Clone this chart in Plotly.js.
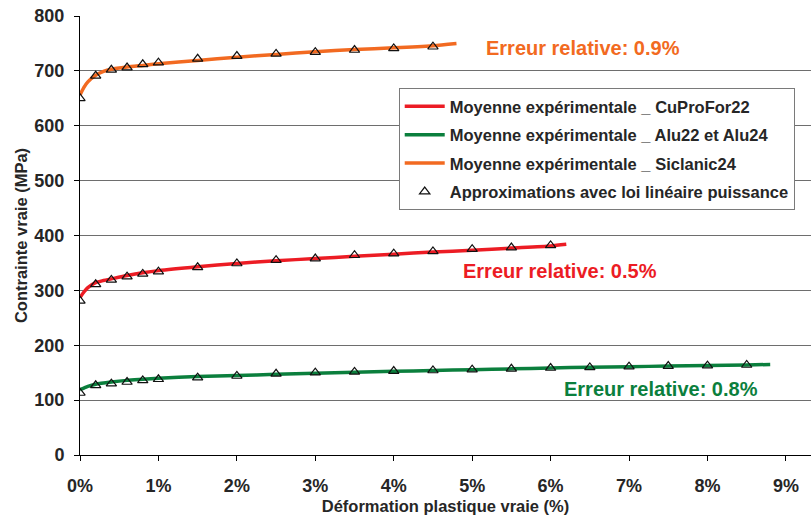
<!DOCTYPE html>
<html>
<head>
<meta charset="utf-8">
<script src="https://cdn.plot.ly/plotly-3.0.1.min.js"></script>
<style>
  html, body { margin: 0; padding: 0; background: #ffffff; }
  #chart { width: 811px; height: 518px; }
</style>
</head>
<body>
<div id="chart"></div>
<script>
// Courbes contrainte vraie / déformation plastique vraie (déformation en %)
const cuproforStrain = [0, 0.05, 0.1, 0.2, 0.3, 0.4, 0.6, 0.8, 1.0, 1.5, 2.0, 2.5, 3.0, 3.5, 4.0, 4.5, 5.0, 5.5, 6.0, 6.2];
const cuproforStress = [287, 297, 305, 314, 318, 321, 327, 332, 336, 343, 349, 354, 358, 362, 366, 370, 373, 377, 381, 384];

const aluStrain = [0, 0.05, 0.1, 0.2, 0.4, 0.6, 0.8, 1.0, 1.5, 2.0, 2.5, 3.0, 3.5, 4.0, 4.5, 5.0, 5.5, 6.0, 6.5, 7.0, 7.5, 8.0, 8.5, 8.8];
const aluStress = [119, 122, 125, 129, 133, 136, 138, 140, 143, 145, 147, 149, 151, 152.5, 154, 155.5, 157, 158.5, 160, 161, 162, 163, 164, 165];

const siclanicStrain = [0, 0.05, 0.1, 0.2, 0.3, 0.4, 0.6, 0.8, 1.0, 1.5, 2.0, 2.5, 3.0, 3.5, 4.0, 4.5, 4.8];
const siclanicStress = [656, 670, 680, 692, 699, 703, 707, 710, 713, 719, 725, 730, 735, 739, 742, 746, 750];

// Points de l'approximation (loi linéaire puissance)
const approxStrain = [0, 0.2, 0.4, 0.6, 0.8, 1.0, 1.5, 2.0, 2.5, 3.0, 3.5, 4.0, 4.5, 5.0, 5.5, 6.0, 6.5, 7.0, 7.5, 8.0, 8.5];
const approxCuprofor = [281, 311, 319, 325, 330, 334, 342, 349, 355, 358, 364, 367, 371, 375, 378, 382];
const approxAlu = [113, 127, 130, 133, 136, 138, 141, 144, 148, 150, 151.5, 153, 154, 155.4, 157, 158.5, 159.6, 161, 162, 162.7, 164];
const approxSiclanic = [650, 691, 702, 706, 712, 715, 722, 727, 731, 734, 738, 741, 744];

const seriesNames = [
  'Moyenne expérimentale _ CuProFor22',
  'Moyenne expérimentale _ Alu22 et Alu24',
  'Moyenne expérimentale _ Siclanic24',
  'Approximations avec loi linéaire puissance'
];
const errorLabels = ['Erreur relative: 0.5%', 'Erreur relative: 0.8%', 'Erreur relative: 0.9%'];

const RED = '#ec1c24';
const GREEN = '#0b7f3d';
const ORANGE = '#f26a21';
const FONT = 'Liberation Sans, Arial, sans-serif';
const TEXT = '#262626';

function curve(x, y, name, color, group) {
  return {
    x: x, y: y, name: name, type: 'scatter', mode: 'lines',
    line: { color: color, width: 3.5, shape: 'spline', smoothing: 0.6 },
    legendgroup: group, hoverinfo: 'x+y'
  };
}
function approx(y, show) {
  return {
    x: approxStrain.slice(0, y.length), y: y, name: seriesNames[3], type: 'scatter', mode: 'markers',
    marker: { symbol: 'triangle-up-open', size: 9, color: '#111111', line: { width: 1.2, color: '#111111' } },
    legendgroup: 'g4', showlegend: show
  };
}

const data = [
  curve(cuproforStrain, cuproforStress, seriesNames[0], RED, 'g1'),
  curve(aluStrain, aluStress, seriesNames[1], GREEN, 'g2'),
  curve(siclanicStrain, siclanicStress, seriesNames[2], ORANGE, 'g3'),
  approx(approxCuprofor, true),
  approx(approxAlu, false),
  approx(approxSiclanic, false)
];

function note(text, x, y, color) {
  return {
    text: text, x: x, y: y, xref: 'x', yref: 'y', xanchor: 'left', yanchor: 'middle',
    showarrow: false, font: { family: FONT, size: 20, color: color, weight: 'bold' }
  };
}

const layout = {
  width: 811, height: 518,
  margin: { l: 80, r: 0, t: 16, b: 63 },
  paper_bgcolor: '#ffffff', plot_bgcolor: '#ffffff',
  font: { family: FONT, color: TEXT },
  showlegend: true,
  legend: {
    x: 0.436, y: 0.836, xanchor: 'left', yanchor: 'top',
    bgcolor: '#ffffff', bordercolor: '#7a7a7a', borderwidth: 1,
    font: { family: FONT, size: 16.5, color: TEXT, weight: 'bold' },
    tracegroupgap: 4, itemwidth: 40, traceorder: 'grouped'
  },
  xaxis: {
    range: [0, 9.32], tickmode: 'linear', tick0: 0, dtick: 1, ticksuffix: '%',
    showgrid: false, zeroline: false,
    showline: true, linecolor: '#000000', linewidth: 1,
    ticks: 'outside', ticklen: 5, tickcolor: '#000000', ticklabelstandoff: 9,
    tickfont: { family: FONT, size: 18, color: TEXT, weight: 'bold' },
    title: { text: 'Déformation plastique vraie (%)', standoff: 5,
             font: { family: FONT, size: 16.5, color: TEXT, weight: 'bold' } }
  },
  yaxis: {
    range: [0, 800], tickmode: 'linear', tick0: 0, dtick: 100,
    showgrid: true, gridcolor: '#6e6e6e', gridwidth: 1, zeroline: false,
    showline: true, linecolor: '#000000', linewidth: 1,
    ticks: 'outside', ticklen: 5, tickcolor: '#000000', ticklabelstandoff: 6,
    tickfont: { family: FONT, size: 18, color: TEXT, weight: 'bold' },
    title: { text: 'Contrainte vraie (MPa)', standoff: 2,
             font: { family: FONT, size: 16.5, color: TEXT, weight: 'bold' } }
  },
  annotations: [
    note(errorLabels[2], 5.15, 741, ORANGE),
    note(errorLabels[0], 4.86, 336, RED),
    note(errorLabels[1], 6.15, 120.5, GREEN)
  ]
};

Plotly.newPlot('chart', data, layout, { staticPlot: true, displayModeBar: false });
</script>
</body>
</html>
